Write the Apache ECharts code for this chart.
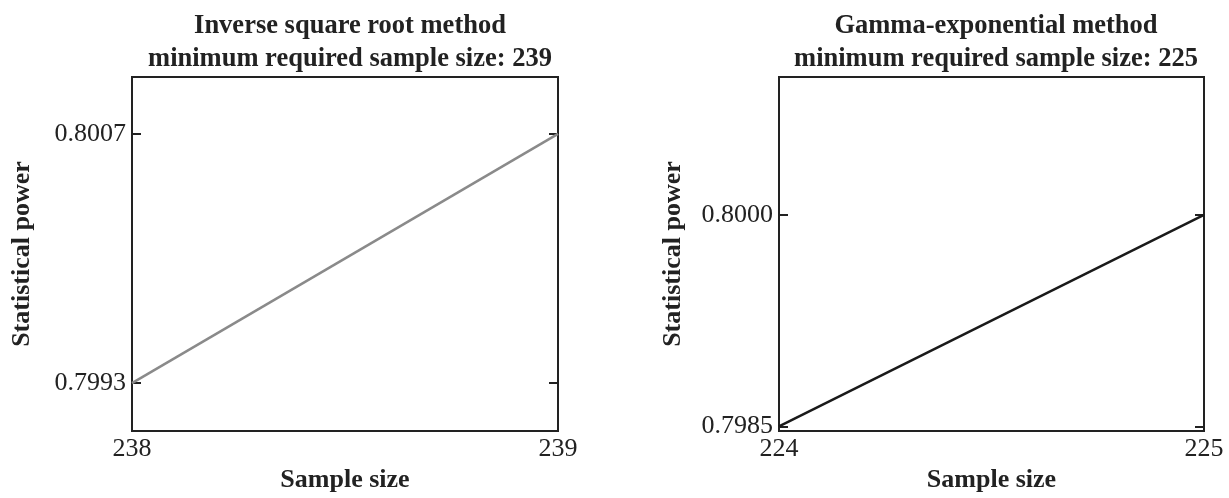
<!DOCTYPE html>
<html>
<head>
<meta charset="utf-8">
<script src="https://cdn.jsdelivr.net/npm/echarts@6/dist/echarts.min.js"></script>
<style>
html,body{margin:0;padding:0;background:#fff;}
#main{width:1229px;height:498px;}
</style>
</head>
<body>
<div id="main"></div>
<script>
// ---- data ----
const leftTitle = 'Inverse square root method\nminimum required sample size: 239';
const rightTitle = 'Gamma-exponential method\nminimum required sample size: 225';
const leftX = [238, 239];
const leftPower = [0.7993, 0.8007];
const rightX = [224, 225];
const rightPower = [0.7985, 0.8000];
const leftYTicks = [0.7993, 0.8007];
const rightYTicks = [0.7985, 0.8000];
const leftXTicks = [238, 239];
const rightXTicks = [224, 225];
const xName = 'Sample size';
const yName = 'Statistical power';

const FONT = '"Liberation Serif", "Times New Roman", serif';
const INK = '#222';

function xAxisCfg(gridIndex, ticks) {
  return {
    type: 'value', gridIndex: gridIndex,
    min: ticks[0], max: ticks[ticks.length - 1],
    name: xName, nameLocation: 'middle', nameGap: 32,
    nameTextStyle: {fontFamily: FONT, fontSize: 26, fontWeight: 'bold', color: INK},
    axisLine: {show: false},
    axisTick: {show: false},
    splitLine: {show: false},
    axisLabel: {customValues: ticks, margin: 5, fontFamily: FONT, fontSize: 26, color: INK,
      formatter: v => String(v)}
  };
}
function yAxisCfg(gridIndex, ticks, min, max, nameGap) {
  return {
    type: 'value', gridIndex: gridIndex, min: min, max: max,
    name: yName, nameLocation: 'middle', nameGap: nameGap,
    nameTextStyle: {fontFamily: FONT, fontSize: 26, fontWeight: 'bold', color: INK},
    axisLine: {show: false},
    splitLine: {show: false},
    axisTick: {customValues: ticks, inside: true, length: 9, lineStyle: {color: INK, width: 2}},
    axisLabel: {customValues: ticks, margin: 6, fontFamily: FONT, fontSize: 26, color: INK,
      formatter: v => v.toFixed(4)}
  };
}
function yMirrorCfg(gridIndex, ticks, min, max) {
  return {
    type: 'value', gridIndex: gridIndex, min: min, max: max, position: 'right',
    axisLine: {show: false},
    splitLine: {show: false},
    axisTick: {customValues: ticks, inside: true, length: 9, lineStyle: {color: INK, width: 2}},
    axisLabel: {show: false}
  };
}

const chart = echarts.init(document.getElementById('main'), null, {renderer: 'canvas'});
chart.setOption({
  animation: false,
  backgroundColor: '#fff',
  title: [
    {text: leftTitle, left: 345, top: 5, textAlign: 'center',
     textStyle: {fontFamily: FONT, fontSize: 26.5, fontWeight: 'bold', color: INK, lineHeight: 33}},
    {text: rightTitle, left: 991, top: 5, textAlign: 'center',
     textStyle: {fontFamily: FONT, fontSize: 26.5, fontWeight: 'bold', color: INK, lineHeight: 33}}
  ],
  grid: [
    {left: 132, right: 671, top: 77, bottom: 56, show: true, borderColor: INK, borderWidth: 2, backgroundColor: 'transparent'},
    {left: 779, right: 25, top: 77, bottom: 56, show: true, borderColor: INK, borderWidth: 2, backgroundColor: 'transparent'}
  ],
  xAxis: [xAxisCfg(0, leftXTicks), xAxisCfg(1, rightXTicks)],
  yAxis: [
    yAxisCfg(0, leftYTicks, 0.79903, 0.80102, 97),
    yMirrorCfg(0, leftYTicks, 0.79903, 0.80102),
    yAxisCfg(1, rightYTicks, 0.798466, 0.800977, 93),
    yMirrorCfg(1, rightYTicks, 0.798466, 0.800977)
  ],
  series: [
    {type: 'line', xAxisIndex: 0, yAxisIndex: 0, data: leftX.map((x, i) => [x, leftPower[i]]),
     showSymbol: false, lineStyle: {color: '#8a8a8a', width: 2.5}},
    {type: 'line', xAxisIndex: 1, yAxisIndex: 2, data: rightX.map((x, i) => [x, rightPower[i]]),
     showSymbol: false, lineStyle: {color: '#1a1a1a', width: 2.5}}
  ]
});
</script>
</body>
</html>
